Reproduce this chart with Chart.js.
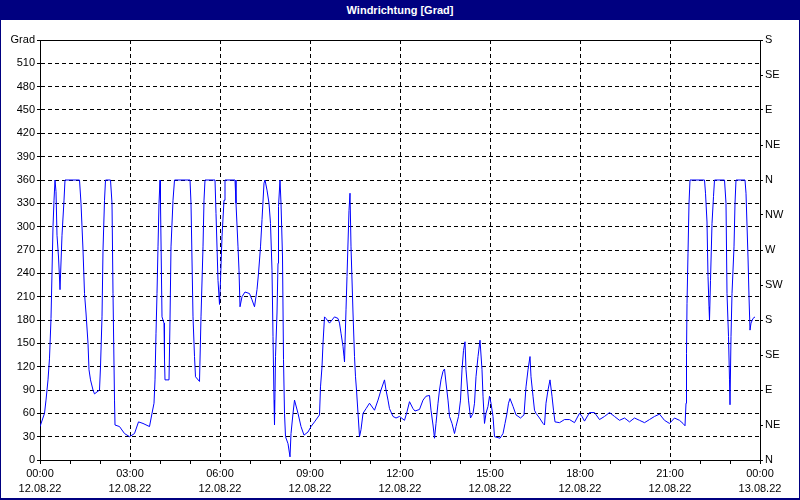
<!DOCTYPE html>
<html>
<head>
<meta charset="utf-8">
<script src="https://cdn.jsdelivr.net/npm/chart.js@4.4.0/dist/chart.umd.min.js"></script>
<style>
  body { margin: 0; background: #fff; }
  #wrap { position: relative; width: 800px; height: 500px; overflow: hidden; }
  #head {
    position: absolute; left: 0; top: 0; width: 800px; height: 20px;
    background: #000080; color: #fff; font: bold 11px "Liberation Sans", Arial, sans-serif;
    line-height: 20px; text-align: center;
  }
  #frame {
    position: absolute; left: 0; top: 0; width: 800px; height: 500px; box-sizing: border-box;
    border: 1px solid #000080; border-bottom-width: 2px; pointer-events: none;
  }
  canvas { position: absolute; left: 0; top: 0; }
</style>
</head>
<body>
<div id="wrap">
  <canvas id="WindChart" width="800" height="500"></canvas>
  <div id="head">Windrichtung [Grad]</div>
  <div id="frame"></div>
</div>
<script>
// minutes since 12.08.22 00:00
var minutes = [0, 9, 12, 16, 19, 22, 26, 28, 30, 32, 34, 37, 39, 40, 44, 48, 50, 79, 82, 86,
  89, 92, 96, 98, 101, 106, 109, 119, 121, 124, 126, 129, 131, 141, 144, 146, 149, 150, 159, 169,
  179, 189, 197, 206, 219, 224, 228, 230, 232, 234, 236, 238, 240, 241, 244, 248, 249, 250, 258, 260,
  262, 266, 269, 300, 302, 306, 309, 311, 319, 322, 326, 328, 330, 350, 352, 356, 359, 361, 364, 368,
  370, 390, 392, 396, 398, 400, 404, 410, 419, 424, 429, 434, 437, 441, 444, 448, 450, 454, 458, 461,
  464, 466, 468, 469, 471, 474, 476, 477, 480, 482, 485, 487, 489, 491, 496, 500, 502, 506, 509, 516,
  522, 528, 536, 542, 549, 559, 561, 564, 566, 569, 572, 579, 589, 596, 599, 602, 606, 608, 609, 610,
  612, 614, 616, 618, 620, 622, 626, 629, 631, 633, 636, 639, 642, 646, 652, 659, 669, 676, 682, 689,
  692, 696, 699, 706, 712, 719, 729, 734, 739, 746, 750, 759, 766, 772, 779, 782, 786, 789, 792, 796,
  799, 802, 806, 809, 812, 816, 819, 824, 829, 832, 837, 841, 844, 847, 850, 852, 857, 861, 866, 869,
  872, 876, 880, 884, 886, 889, 892, 896, 899, 902, 906, 909, 920, 926, 930, 934, 937, 940, 946, 952,
  961, 968, 972, 976, 980, 982, 986, 989, 992, 999, 1006, 1009, 1012, 1016, 1020, 1024, 1027, 1030, 1039, 1049,
  1059, 1069, 1074, 1079, 1084, 1089, 1099, 1109, 1119, 1129, 1139, 1149, 1159, 1169, 1179, 1189, 1199, 1209, 1219, 1229,
  1239, 1249, 1259, 1269, 1279, 1286, 1290, 1292, 1293, 1294, 1296, 1298, 1300, 1329, 1331, 1334, 1336, 1338, 1339, 1341,
  1344, 1347, 1349, 1369, 1372, 1374, 1377, 1379, 1380, 1382, 1384, 1388, 1390, 1392, 1410, 1412, 1416, 1418, 1420, 1422,
  1426, 1430];
var degrees = [43, 60, 77, 103, 131, 182, 300, 334, 360, 345, 289, 261, 234, 219, 289, 334, 360, 360, 330, 270,
  214, 189, 150, 116, 103, 90, 85, 90, 120, 184, 270, 334, 360, 360, 330, 214, 77, 45, 43, 34,
  30, 34, 49, 47, 43, 60, 73, 103, 163, 214, 274, 330, 360, 330, 184, 176, 129, 103, 103, 180,
  274, 334, 360, 360, 330, 184, 133, 107, 101, 184, 274, 334, 360, 360, 317, 231, 200, 231, 287, 334,
  360, 360, 330, 274, 244, 197, 210, 216, 214, 206, 197, 219, 240, 274, 309, 356, 360, 347, 330, 304,
  244, 159, 77, 45, 133, 189, 253, 326, 360, 330, 261, 129, 60, 30, 21, 4, 34, 60, 77, 60,
  43, 32, 36, 43, 49, 58, 94, 120, 150, 184, 182, 176, 184, 182, 176, 163, 146, 133, 126, 150,
  193, 236, 279, 321, 343, 274, 189, 133, 107, 90, 60, 30, 39, 60, 66, 73, 64, 77, 90, 103,
  90, 77, 66, 56, 54, 56, 51, 62, 75, 66, 63, 65, 77, 82, 83, 64, 45, 28, 47, 73,
  90, 103, 114, 117, 99, 77, 56, 47, 34, 43, 56, 77, 116, 141, 152, 116, 77, 54, 60, 73,
  107, 133, 154, 116, 82, 47, 60, 69, 82, 73, 56, 30, 28, 34, 47, 60, 73, 79, 69, 58,
  54, 58, 94, 116, 133, 107, 82, 64, 60, 54, 47, 45, 73, 90, 103, 82, 64, 49, 48, 52,
  52, 48, 54, 60, 56, 50, 61, 61, 52, 56, 61, 56, 51, 54, 49, 54, 51, 48, 52, 56,
  59, 51, 47, 54, 51, 47, 44, 73, 137, 201, 266, 330, 360, 360, 343, 306, 236, 197, 180, 231,
  304, 339, 360, 360, 330, 214, 159, 103, 71, 159, 214, 274, 330, 360, 360, 343, 261, 210, 167, 176,
  182, 184];

var timeLabels = ['00:00', '03:00', '06:00', '09:00', '12:00', '15:00', '18:00', '21:00', '00:00'];
var dateLabels = ['12.08.22', '12.08.22', '12.08.22', '12.08.22', '12.08.22', '12.08.22', '12.08.22', '12.08.22', '13.08.22'];
var directions = ['N', 'NE', 'E', 'SE', 'S', 'SW', 'W', 'NW', 'N', 'NE', 'E', 'SE', 'S'];

var points = minutes.map(function (m, i) { return { x: m, y: degrees[i] }; });

Chart.defaults.font.family = '"Liberation Sans", Arial, sans-serif';
Chart.defaults.font.size = 11;
Chart.defaults.color = '#000';

var ctx = document.getElementById('WindChart').getContext('2d');
var WindChart = new Chart(ctx, {
    type: 'line',
    data: {
        datasets: [{
            label: 'Windrichtung',
            data: points,
            borderColor: '#0000FF',
            borderWidth: 1,
            pointRadius: 0,
            tension: 0,
            yAxisID: 'y'
        }]
    },
    options: {
        responsive: false,
        animation: false,
        layout: { padding: 0 },
        plugins: {
            legend: { display: false },
            tooltip: { enabled: false }
        },
        scales: {
            x: {
                type: 'linear',
                position: 'bottom',
                min: 0,
                max: 1440,
                afterFit: function (s) { s.height = 40; },
                ticks: {
                    stepSize: 60,
                    autoSkip: false,
                    maxRotation: 0,
                    padding: 3,
                    font: { size: 11, lineHeight: 1.35 },
                    callback: function (v) {
                        return v % 180 === 0 ? [timeLabels[v / 180], dateLabels[v / 180]] : '';
                    }
                },
                grid: {
                    color: function (c) {
                        return c.tick && c.tick.value % 180 === 0 ? '#000' : 'rgba(0,0,0,0)';
                    },
                    tickColor: '#000',
                    tickLength: 4
                },
                border: { display: true, color: '#000', width: 1, dash: [4, 3] }
            },
            xTop: {
                type: 'linear',
                position: 'top',
                min: 0,
                max: 1440,
                afterFit: function (s) { s.height = 40; },
                ticks: { display: false },
                grid: { display: false },
                border: { display: true, color: '#000', width: 1 }
            },
            y: {
                position: 'left',
                min: 0,
                max: 540,
                afterFit: function (s) { s.width = 40; },
                ticks: {
                    stepSize: 30,
                    padding: 2,
                    callback: function (v) { return v === 540 ? 'Grad' : v; }
                },
                grid: { color: '#000', tickColor: '#000', tickLength: 3 },
                border: { display: true, color: '#000', width: 1, dash: [4, 3] }
            },
            y2: {
                position: 'right',
                min: 0,
                max: 540,
                afterFit: function (s) { s.width = 40; },
                ticks: {
                    stepSize: 45,
                    padding: 2,
                    callback: function (v) { return directions[Math.round(v / 45)]; }
                },
                grid: { drawOnChartArea: false, color: '#000', tickLength: 3 },
                border: { display: true, color: '#000', width: 1 }
            }
        }
    }
});
</script>
</body>
</html>
